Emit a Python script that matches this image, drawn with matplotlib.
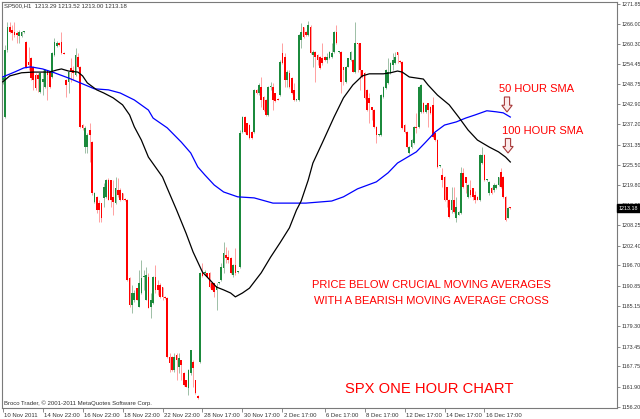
import matplotlib
matplotlib.use("Agg")
import matplotlib.pyplot as plt
from matplotlib.patches import Polygon
import matplotlib.transforms as mtransforms

# ---------------- data (SP500 H1 candles) ----------------
opens = [
    1249.9, 1239.3, 1258.5, 1265.2, 1264.3, 1263.7, 1263.4, 1262.6, 1262.6, 1263.7,
    1260.8, 1255.1, 1256.3, 1253.7, 1251.4, 1251.4, 1246.5, 1249.4, 1247.9, 1252.8,
    1252.2, 1250.8, 1257.1, 1259.7, 1260.6, 1260.8, 1257.7, 1249.9, 1249.4, 1253.4,
    1252.8, 1251.4, 1256.5, 1253.7, 1237.0, 1230.7, 1230.7, 1235.6, 1232.1, 1214.9,
    1216.4, 1214.6,
    1214.6, 1216.1, 1216.4, 1221.2, 1221.2, 1216.4, 1214.6, 1218.4, 1218.4, 1217.5,
    1215.8, 1215.5, 1193.1, 1185.4, 1186.8, 1190.2, 1184.8, 1188.8, 1193.4, 1186.8,
    1193.4, 1184.8, 1185.9, 1193.4, 1191.1, 1191.1, 1190.5, 1187.7, 1187.4, 1170.4,
    1170.4, 1166.7, 1171.0, 1167.6, 1169.6, 1165.9, 1163.8, 1161.5, 1165.9, 1169.0,
    1163.8, 1159.2, 1169.0, 1194.6, 1194.6,
    1194.6, 1194.6, 1191.7, 1191.7, 1189.7, 1191.7, 1192.5, 1196.0, 1199.7, 1199.1,
    1198.9, 1194.0, 1196.9, 1194.8, 1196.3, 1235.0, 1239.3, 1237.6, 1237.0, 1235.0,
    1235.0, 1247.1, 1246.2, 1247.9, 1245.1, 1244.2, 1239.9, 1247.9, 1247.9, 1246.2,
    1244.5, 1245.6, 1257.7, 1256.5, 1249.9, 1252.0, 1250.5, 1247.1, 1244.2, 1244.2,
    1261.4, 1265.2,
    1263.7, 1262.9, 1265.2, 1257.1, 1258.0, 1257.1, 1256.5, 1256.3, 1256.5, 1255.7,
    1256.3, 1256.5, 1258.0, 1263.7, 1258.0, 1258.0, 1253.7, 1249.4, 1253.7, 1255.7,
    1255.7, 1252.2, 1260.6, 1260.6, 1252.8, 1252.0, 1247.1, 1244.8, 1242.2, 1241.3,
    1236.5, 1234.2, 1234.2, 1245.1, 1247.6, 1249.1, 1252.0, 1254.3, 1254.8, 1258.0,
    1255.4, 1255.1, 1237.0, 1235.0,
    1229.0, 1230.7, 1231.9, 1236.5, 1236.5, 1240.8, 1243.3, 1240.8, 1243.3, 1242.2,
    1242.8, 1234.7, 1232.7, 1225.3, 1222.7, 1222.1, 1219.2, 1215.5, 1212.6, 1215.5,
    1210.3, 1211.2, 1211.8, 1223.3, 1222.1, 1216.4, 1218.4, 1218.9, 1216.9, 1216.4,
    1215.5, 1226.1, 1228.4, 1221.2, 1217.5, 1218.9, 1218.4, 1218.9, 1219.8, 1223.5,
    1222.1, 1216.4, 1210.3, 1213.29,
]
highs = [
    1251.1, 1260.0, 1266.6, 1266.6, 1265.7, 1266.6, 1264.0, 1264.3, 1264.0, 1264.0,
    1261.1, 1259.4, 1256.5, 1254.0, 1252.0, 1252.0, 1252.2, 1252.8, 1253.1, 1252.8,
    1252.5, 1258.0, 1262.0, 1261.1, 1260.8, 1263.7, 1258.0, 1250.2, 1252.5, 1256.3,
    1254.0, 1259.1, 1257.7, 1254.0, 1237.3, 1236.7, 1234.7, 1237.6, 1232.4, 1217.8,
    1216.6, 1215.5,
    1214.6, 1220.4, 1221.5, 1221.8, 1221.2, 1221.2, 1222.1, 1221.8, 1218.9, 1217.5,
    1216.1, 1215.8, 1193.4, 1191.1, 1189.7, 1190.2, 1195.4, 1198.3, 1195.4, 1196.3,
    1194.6, 1188.8, 1193.7, 1196.9, 1192.5, 1191.7, 1190.5, 1187.9, 1187.7, 1171.6,
    1170.7, 1171.6, 1171.6, 1171.6, 1169.6, 1166.1, 1163.8, 1167.0, 1172.5, 1169.6,
    1163.8, 1159.5, 1194.8, 1197.4, 1195.4,
    1194.6, 1194.8, 1192.0, 1191.7, 1191.7, 1192.0, 1197.4, 1203.4, 1202.0, 1201.2,
    1199.1, 1197.1, 1201.7, 1195.1, 1235.6, 1239.6, 1239.6, 1237.6, 1237.3, 1235.3,
    1247.4, 1247.4, 1249.1, 1250.8, 1245.3, 1244.5, 1248.2, 1249.4, 1249.1, 1246.2,
    1244.8, 1255.7, 1260.6, 1257.7, 1252.8, 1252.8, 1250.8, 1249.1, 1244.5, 1263.1,
    1266.3, 1265.2,
    1264.0, 1266.9, 1265.7, 1258.5, 1258.3, 1257.4, 1256.8, 1260.6, 1256.8, 1257.7,
    1258.3, 1260.6, 1264.0, 1265.7, 1258.3, 1258.3, 1253.7, 1254.0, 1256.3, 1258.3,
    1256.0, 1266.6, 1260.6, 1260.6, 1252.8, 1252.2, 1247.4, 1246.2, 1242.2, 1241.6,
    1236.7, 1234.4, 1245.9, 1248.2, 1253.1, 1256.3, 1255.1, 1257.7, 1258.0, 1258.0,
    1255.7, 1255.4, 1237.3, 1235.3,
    1231.0, 1233.0, 1236.7, 1240.5, 1248.2, 1248.8, 1243.6, 1243.1, 1243.3, 1242.5,
    1245.1, 1235.0, 1233.0, 1225.5, 1224.7, 1222.4, 1219.2, 1215.8, 1219.2, 1219.2,
    1216.4, 1212.3, 1225.0, 1224.7, 1222.1, 1220.1, 1221.2, 1218.9, 1218.1, 1216.6,
    1228.7, 1230.7, 1228.7, 1221.5, 1221.0, 1219.2, 1220.4, 1220.1, 1222.1, 1224.7,
    1222.4, 1216.6, 1213.5, 1213.52,
]
lows = [
    1248.8, 1239.0, 1258.0, 1263.4, 1261.4, 1262.3, 1260.6, 1260.6, 1262.3, 1263.4,
    1253.4, 1252.8, 1249.9, 1247.1, 1247.1, 1246.5, 1246.2, 1245.6, 1247.6, 1244.2,
    1247.6, 1250.5, 1256.8, 1259.4, 1259.7, 1257.4, 1257.4, 1245.1, 1246.2, 1249.4,
    1249.9, 1251.1, 1253.4, 1236.2, 1235.6, 1229.0, 1229.0, 1226.4, 1216.9, 1214.6,
    1211.8, 1209.2,
    1209.2, 1213.5, 1216.1, 1215.5, 1213.5, 1211.2, 1214.4, 1216.4, 1215.2, 1215.5,
    1215.2, 1192.3, 1184.8, 1183.1, 1186.2, 1186.8, 1184.8, 1188.5, 1189.7, 1186.8,
    1184.5, 1181.6, 1185.7, 1188.8, 1188.2, 1187.4, 1186.8, 1187.1, 1170.2, 1166.1,
    1166.4, 1166.1, 1163.8, 1165.9, 1163.8, 1162.1, 1161.8, 1159.5, 1165.3, 1161.8,
    1159.8, 1158.4, 1168.7, 1193.4, 1194.0,
    1193.4, 1190.2, 1189.7, 1187.7, 1183.9, 1191.4, 1192.3, 1194.6, 1197.4, 1197.4,
    1194.3, 1193.4, 1194.0, 1194.6, 1196.0, 1234.7, 1234.7, 1234.2, 1233.0, 1233.0,
    1234.7, 1245.9, 1245.6, 1242.2, 1241.1, 1239.6, 1239.6, 1247.1, 1241.3, 1243.6,
    1244.2, 1245.3, 1254.5, 1247.9, 1247.9, 1247.6, 1245.9, 1243.9, 1243.9, 1243.9,
    1259.1, 1262.0,
    1262.6, 1262.6, 1257.4, 1253.7, 1249.4, 1254.3, 1253.1, 1254.3, 1255.4, 1254.8,
    1256.0, 1256.3, 1257.7, 1260.3, 1257.7, 1246.2, 1248.5, 1249.1, 1253.7, 1255.4,
    1252.2, 1252.0, 1252.2, 1247.1, 1250.5, 1244.5, 1241.1, 1237.6, 1238.5, 1236.2,
    1231.9, 1233.9, 1233.9, 1244.8, 1247.4, 1248.8, 1251.7, 1252.8, 1254.5, 1254.8,
    1254.8, 1235.9, 1234.7, 1230.4,
    1228.7, 1230.4, 1231.6, 1234.7, 1236.2, 1240.5, 1240.5, 1240.5, 1236.5, 1240.2,
    1233.3, 1232.4, 1224.7, 1225.0, 1219.2, 1215.2, 1213.5, 1210.3, 1211.8, 1211.8,
    1209.2, 1211.2, 1211.5, 1218.9, 1217.5, 1216.1, 1216.4, 1215.5, 1214.6, 1215.5,
    1215.2, 1225.8, 1221.0, 1221.0, 1216.9, 1217.2, 1217.8, 1218.7, 1219.5, 1218.9,
    1216.1, 1209.5, 1210.3, 1213.00,
]
closes = [
    1250.5, 1258.5, 1265.2, 1263.7, 1263.4, 1262.9, 1262.9, 1263.7, 1263.7, 1263.9,
    1253.7, 1254.3, 1250.5, 1249.9, 1247.6, 1250.2, 1252.0, 1250.2, 1252.8, 1251.4,
    1247.9, 1257.7, 1260.8, 1260.6, 1260.0, 1257.7, 1257.5, 1248.5, 1252.2, 1252.2,
    1252.0, 1257.1, 1253.7, 1236.5, 1236.2, 1236.2, 1234.2, 1234.2, 1217.5, 1217.5,
    1212.6, 1212.6,
    1210.3, 1219.2, 1221.2, 1215.5, 1215.5, 1214.9, 1218.9, 1216.9, 1215.5, 1215.5,
    1215.5, 1192.5, 1185.4, 1188.8, 1188.8, 1186.8, 1191.7, 1193.1, 1193.7, 1194.0,
    1184.5, 1186.8, 1193.4, 1189.7, 1189.7, 1187.7, 1187.7, 1187.4, 1170.4, 1168.7,
    1166.7, 1170.4, 1169.6, 1170.2, 1168.2, 1162.4, 1161.8, 1166.7, 1172.5, 1167.3,
    1160.1, 1158.7, 1194.6, 1193.7, 1194.8,
    1193.4, 1190.5, 1189.7, 1189.1, 1190.8, 1191.8, 1196.3, 1200.3, 1198.9, 1198.3,
    1194.6, 1196.9, 1194.6, 1194.9, 1234.7, 1239.3, 1235.0, 1234.2, 1233.3, 1233.3,
    1247.1, 1246.2, 1248.5, 1244.2, 1241.3, 1239.9, 1247.9, 1248.2, 1244.2, 1243.9,
    1244.2, 1255.1, 1254.8, 1249.9, 1252.2, 1247.9, 1246.2, 1244.2, 1244.3, 1262.9,
    1263.7, 1262.3,
    1262.9, 1265.7, 1257.7, 1258.0, 1256.5, 1255.7, 1253.4, 1254.8, 1255.7, 1256.5,
    1258.0, 1257.7, 1263.7, 1260.6, 1258.1, 1249.4, 1252.8, 1253.7, 1256.3, 1258.0,
    1252.2, 1260.6, 1260.3, 1252.8, 1250.8, 1244.8, 1241.3, 1243.3, 1241.3, 1236.5,
    1234.2, 1234.3, 1245.6, 1247.9, 1252.8, 1252.2, 1254.8, 1255.7, 1256.5, 1257.1,
    1255.1, 1236.2, 1235.0, 1230.7,
    1230.7, 1232.7, 1236.5, 1236.2, 1247.9, 1248.5, 1240.8, 1242.8, 1241.3, 1240.5,
    1233.6, 1232.7, 1225.0, 1225.5, 1221.2, 1215.5, 1215.5, 1210.6, 1215.5, 1212.1,
    1213.5, 1212.1, 1223.3, 1219.2, 1220.4, 1219.8, 1216.9, 1216.4, 1215.5, 1215.5,
    1228.4, 1228.4, 1221.2, 1221.3, 1220.7, 1217.5, 1219.8, 1219.8, 1222.1, 1219.2,
    1216.4, 1209.8, 1213.2, 1213.18,
]

# moving averages, read at selected bars
sma50_bars = [0, 3, 8, 13, 20, 23, 25, 28, 32, 34, 36, 40, 43, 47, 51, 54, 56, 59, 62, 68,
              70, 74, 78, 81, 83, 85, 87, 91, 94, 97, 99, 102, 105, 110, 114, 118, 122, 125, 127, 130,
              132, 136, 141, 145, 149, 153, 156, 162, 165, 168, 170, 173, 179, 181, 185, 190, 194, 198, 202, 207,
              211, 214, 216]
sma50_vals = [1249.4, 1251.1, 1252.0, 1252.2, 1252.2, 1252.8, 1253.1, 1252.5, 1252.2, 1251.1,
              1249.1, 1247.1, 1246.2, 1244.8, 1242.8, 1239.9, 1236.5, 1232.7, 1227.8, 1222.1,
              1218.9, 1212.6, 1206.0, 1200.6, 1197.7, 1194.8, 1193.4, 1190.5, 1189.7, 1188.8,
              1187.7, 1188.8, 1190.2, 1194.6, 1199.1, 1203.2, 1207.5, 1212.6, 1215.2, 1221.2,
              1226.1, 1231.9, 1239.3, 1244.8, 1248.5, 1251.1, 1251.7, 1251.7, 1252.0, 1252.5,
              1252.2, 1250.8, 1250.2, 1248.5, 1245.6, 1242.8, 1239.3, 1235.6, 1232.7, 1230.7,
              1229.3, 1227.8, 1226.4]
sma100_bars = [0, 5, 9, 12, 17, 22, 28, 33, 39, 45, 50, 56, 62, 64, 70, 76, 80, 83, 86, 90,
               94, 100, 107, 115, 122, 129, 140, 145, 151, 159, 164, 168, 173, 176, 180, 184, 188, 193, 197, 201,
               206, 210, 213, 216]
sma100_vals = [1250.8, 1252.2, 1253.4, 1253.7, 1253.1, 1252.0, 1250.5, 1249.1, 1247.4, 1247.1,
               1246.2, 1244.2, 1241.3, 1239.0, 1236.2, 1232.1, 1229.0, 1225.0, 1222.7, 1219.8,
               1217.8, 1216.4, 1216.1, 1214.6, 1214.6, 1214.6, 1215.2, 1216.4, 1218.7, 1220.7,
               1223.3, 1226.1, 1228.1, 1229.3, 1232.1, 1235.0, 1237.0, 1237.9, 1239.0, 1239.9,
               1241.1, 1240.8, 1240.5, 1239.3]

price_ticks = [1271.85, 1266.00, 1260.30, 1254.45, 1248.75, 1242.90, 1237.20, 1231.35,
               1225.50, 1219.80, 1213.95, 1208.25, 1202.40, 1196.70, 1190.85, 1185.15,
               1179.30, 1173.45, 1167.75, 1161.90, 1156.20]
time_tick_bars = [0, 17, 34, 51, 68, 85, 102, 119, 137, 154, 171, 188, 205]
time_tick_labels = ["10 Nov 2011", "14 Nov 22:00", "16 Nov 22:00", "18 Nov 22:00",
                    "22 Nov 22:00", "28 Nov 17:00", "30 Nov 17:00", "2 Dec 17:00",
                    "6 Dec 17:00", "8 Dec 17:00", "12 Dec 17:00", "14 Dec 17:00",
                    "16 Dec 17:00"]
last_price = 1213.18

# ---------------- figure ----------------
W, H = 640, 419
fig = plt.figure(figsize=(W / 100, H / 100), dpi=100)
fig.patch.set_facecolor("white")


def fx(x):
    return x / W


def fy(y):
    return 1 - y / H


ax = fig.add_axes([fx(2), fy(408), fx(617) - fx(2), fy(2) - fy(408)])
ax.set_facecolor("white")
ax.set_xlim(-0.3, 261.4)
ax.set_ylim(1155.81, 1272.31)

UP_BODY, UP_WICK = "#1b8a3c", "#9dbfa6"
DN_BODY, DN_WICK = "#ff0000", "#ffa0a0"

n = len(closes)
xs = list(range(n))
wick_cols, body_cols, bottoms, heights = [], [], [], []
for o, c in zip(opens, closes):
    up = c >= o
    wick_cols.append(UP_WICK if up else DN_WICK)
    body_cols.append(UP_BODY if up else DN_BODY)
    bottoms.append(min(o, c))
    heights.append(max(abs(c - o), 0.3))

ax.vlines(xs, lows, highs, colors=wick_cols, linewidth=0.7, zorder=2)
ax.bar(xs, heights, bottom=bottoms, width=0.72, color=body_cols, linewidth=0, zorder=3)

ax.plot(sma100_bars, sma100_vals, color="#0000ff", linewidth=0.9, zorder=4)
ax.plot(sma50_bars, sma50_vals, color="#000000", linewidth=0.9, zorder=4)

# axes styling
for side in ["left", "top", "right", "bottom"]:
    ax.spines[side].set_color("#7a7a7a")
    ax.spines[side].set_linewidth(0.8)

ax.yaxis.tick_right()
ax.set_yticks(price_ticks)
ax.set_yticklabels(["%.2f" % v for v in price_ticks])
ax.tick_params(axis="y", which="both", direction="out", length=2.2, width=0.6,
               colors="#7a7a7a", labelcolor="#333333", labelsize=3.9, pad=0.8,
               left=False, right=True)
for lbl in ax.get_yticklabels():
    lbl.set_family(["Liberation Sans", "DejaVu Sans"])

ax.set_xticks(time_tick_bars)
ax.set_xticklabels(time_tick_labels)
ax.tick_params(axis="x", which="both", direction="out", length=3, width=0.6,
               colors="#7a7a7a", labelcolor="#333333", labelsize=4.3, pad=0.8)
offset = mtransforms.ScaledTranslation(1.5 / 100, 0, fig.dpi_scale_trans)
for lbl in ax.get_xticklabels():
    lbl.set_horizontalalignment("left")
    lbl.set_family(["Liberation Sans", "DejaVu Sans"])
    lbl.set_transform(lbl.get_transform() + offset)

# current price tag
trans = mtransforms.blended_transform_factory(ax.transAxes, ax.transData)
ax.text(1.003, last_price, "%.2f" % last_price, transform=trans, ha="left", va="center",
        fontsize=3.9, color="white", family=["Liberation Sans", "DejaVu Sans"],
        bbox=dict(boxstyle="square,pad=0.3", facecolor="black", edgecolor="black"),
        zorder=10, clip_on=False)

# header and footer texts
small = dict(fontsize=4.3, color="#333333", family=["Liberation Sans", "DejaVu Sans"])
fig.text(fx(3.5), fy(5.5), "SP500,H1  1213.29 1213.52 1213.00 1213.18", ha="left", va="center", **small)
fig.text(fx(3.5), fy(403), "Broco Trader, \u00a9 2001-2011 MetaQuotes Software Corp.", ha="left", va="center", **small)

red = dict(color="#ff0000", family=["Liberation Sans", "DejaVu Sans"])
fig.text(fx(499), fy(89), "50 HOUR SMA", ha="left", va="center", fontsize=8, **red)
fig.text(fx(502), fy(131.5), "100 HOUR SMA", ha="left", va="center", fontsize=8, **red)
fig.text(fx(431.7), fy(285.3), "PRICE BELOW CRUCIAL MOVING AVERAGES", ha="center", va="center", fontsize=8, **red)
fig.text(fx(431.5), fy(301.2), "WITH A BEARISH MOVING AVERAGE CROSS", ha="center", va="center", fontsize=8, **red)
fig.text(fx(429), fy(389), "SPX ONE HOUR CHART", ha="center", va="center", fontsize=10.6, **red)


# hollow down arrows
def down_arrow(cx, top, bottom):
    w_stem, w_head = 2.6, 5.2
    mid = top + (bottom - top) * 0.55
    pts = [(cx - w_stem, top), (cx + w_stem, top), (cx + w_stem, mid), (cx + w_head, mid),
           (cx, bottom), (cx - w_head, mid), (cx - w_stem, mid)]
    poly = Polygon([(fx(x), fy(y)) for x, y in pts], closed=True, transform=fig.transFigure,
                   facecolor="#fbeaea", edgecolor="#a83a3a", linewidth=0.8, zorder=20)
    fig.add_artist(poly)


down_arrow(507, 97, 112)
down_arrow(508, 138.5, 153)

fig.savefig("out.png", dpi=100, facecolor="white")
